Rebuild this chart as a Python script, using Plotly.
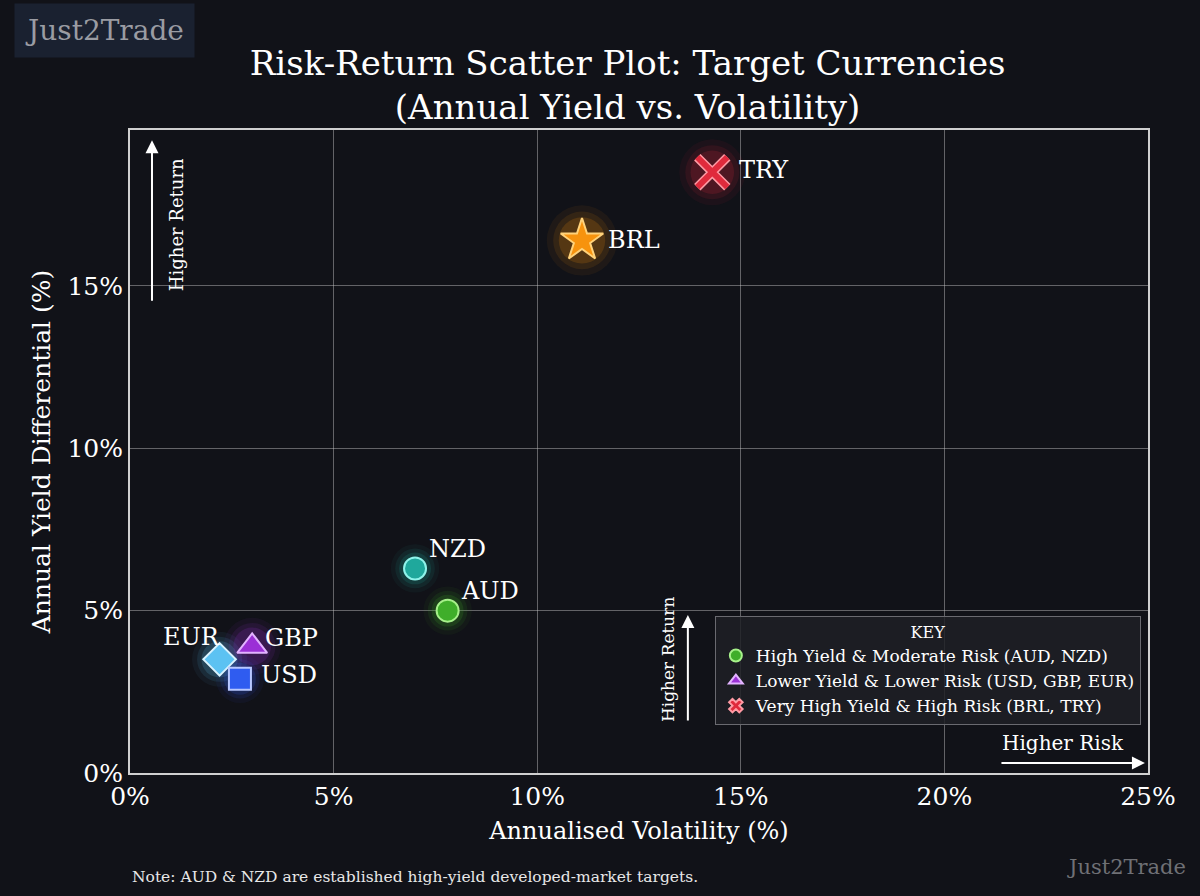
import plotly.graph_objects as go

# ---- data ----
currencies = ["NZD", "AUD", "EUR", "GBP", "USD", "BRL", "TRY"]
volatility = [7.0, 7.8, 2.2, 3.0, 2.7, 11.1, 14.3]
yield_diff = [6.3, 5.0, 3.5, 3.9, 2.9, 16.4, 18.5]
x_ticks = [0, 5, 10, 15, 20, 25]
y_ticks = [0, 5, 10, 15]
legend_names = [
    "High Yield & Moderate Risk (AUD, NZD)",
    "Lower Yield & Lower Risk (USD, GBP, EUR)",
    "Very High Yield & High Risk (BRL, TRY)",
]

# ---- styles ----
colors = {"NZD": "#1fa89c", "AUD": "#3fae2a", "EUR": "#5cc2f2", "GBP": "#9b2fd6",
          "USD": "#2f5cf0", "BRL": "#f7930e", "TRY": "#e02a3c"}
borders = {"NZD": "#8ff3ea", "AUD": "#a6f08a", "EUR": "#d8f3ff", "GBP": "#e2b3ff",
           "USD": "#b8c8ff", "BRL": "#ffd27a", "TRY": "#ff9aa4"}
symbols = {"NZD": "circle", "AUD": "circle", "EUR": "diamond", "GBP": "triangle-up",
           "USD": "square", "BRL": "star", "TRY": "x"}
sizes = {"NZD": 22, "AUD": 22, "EUR": 25, "GBP": 26, "USD": 22, "BRL": 32, "TRY": 30}
label_off = {"NZD": ("left", 12, 19), "AUD": ("left", 11, 20), "EUR": ("right", 2, 22),
             "GBP": ("left", 11, 8), "USD": ("left", 19, 4), "BRL": ("left", 24, 0),
             "TRY": ("left", 25, 2)}

FONT = "DejaVu Serif"
BG = "#111218"

fig = go.Figure()

# glow layers
for c, xv, yv in zip(currencies, volatility, yield_diff):
    for scale, op in [(2.2, 0.06), (1.8, 0.10), (1.45, 0.17)]:
        fig.add_trace(go.Scatter(
            x=[xv], y=[yv], mode="markers", showlegend=False, hoverinfo="skip",
            marker=dict(symbol="circle", size=sizes[c] * scale, color=colors[c], opacity=op,
                        line=dict(width=0))))

# points
for c, xv, yv in zip(currencies, volatility, yield_diff):
    sym = symbols[c]
    if sym == "x":
        fig.add_trace(go.Scatter(
            x=[xv], y=[yv], mode="markers", showlegend=False, hoverinfo="skip",
            marker=dict(symbol="x-thin", size=sizes[c], color=borders[c],
                        line=dict(width=9, color=borders[c]))))
        fig.add_trace(go.Scatter(
            x=[xv], y=[yv], mode="markers", showlegend=False,
            marker=dict(symbol="x-thin", size=sizes[c], color=colors[c],
                        line=dict(width=6, color=colors[c]))))
    else:
        fig.add_trace(go.Scatter(
            x=[xv], y=[yv], mode="markers", showlegend=False,
            marker=dict(symbol=sym, size=sizes[c], color=colors[c],
                        line=dict(width=2, color=borders[c]))))
    anc, xs, ys = label_off[c]
    fig.add_annotation(x=xv, y=yv, text=c, showarrow=False, xanchor=anc, yanchor="middle",
                       xshift=xs, yshift=ys, font=dict(family=FONT, size=24, color="white"))

# legend-only traces
leg_styles = [("circle", "#3fae2a", "#a6f08a"), ("triangle-up", "#9b2fd6", "#e2b3ff"),
              ("x", "#e02a3c", "#ff9aa4")]
for name, (sym, col, bcol) in zip(legend_names, leg_styles):
    fig.add_trace(go.Scatter(
        x=[None], y=[None], mode="markers", name=name, showlegend=True,
        marker=dict(symbol=sym, size=15, color=col, line=dict(width=1.5, color=bcol))))

# direction arrows
fig.add_annotation(xref="paper", yref="paper", x=0.0216, y=0.984, ax=0, ay=162,
                   showarrow=True, arrowhead=2, arrowsize=1.3, arrowwidth=2, arrowcolor="white", text="")
fig.add_annotation(xref="paper", yref="paper", x=0.0452, y=0.852, text="Higher Return",
                   textangle=-90, showarrow=False, xanchor="center", yanchor="middle",
                   font=dict(family=FONT, size=18, color="white"))
fig.add_annotation(xref="paper", yref="paper", x=0.548, y=0.2457, ax=0, ay=107,
                   showarrow=True, arrowhead=2, arrowsize=1.3, arrowwidth=2, arrowcolor="white", text="")
fig.add_annotation(xref="paper", yref="paper", x=0.5285, y=0.1757, text="Higher Return",
                   textangle=-90, showarrow=False, xanchor="center", yanchor="middle",
                   font=dict(family=FONT, size=17, color="white"))
fig.add_annotation(xref="paper", yref="paper", x=0.997, y=0.0156, ax=-145, ay=0,
                   showarrow=True, arrowhead=2, arrowsize=1.3, arrowwidth=2, arrowcolor="white", text="")
fig.add_annotation(xref="paper", yref="paper", x=0.9165, y=0.0467, text="Higher Risk",
                   showarrow=False, xanchor="center", yanchor="middle",
                   font=dict(family=FONT, size=20, color="white"))

# watermarks and note
fig.add_annotation(xref="paper", yref="paper", x=-0.1135, y=1.155, xanchor="left", yanchor="middle",
                   text="Just2Trade", showarrow=False, bgcolor="#1a2130", borderpad=10,
                   font=dict(family=FONT, size=28, color="#9a9ca3"))
fig.add_annotation(xref="paper", yref="paper", x=1.039, y=-0.146, xanchor="right", yanchor="middle",
                   text="Just2Trade", showarrow=False, font=dict(family=FONT, size=21, color="#6f7075"))
fig.add_annotation(xref="paper", yref="paper", x=0.0, y=-0.162, xanchor="left", yanchor="middle",
                   text="Note: AUD & NZD are established high-yield developed-market targets.",
                   showarrow=False, font=dict(family=FONT, size=15.5, color="#e8e8e8"))

fig.update_layout(
    width=1200, height=896,
    paper_bgcolor=BG, plot_bgcolor=BG,
    margin=dict(l=130, r=52, t=130, b=123),
    font=dict(family=FONT, color="white"),
    title=dict(text="Risk-Return Scatter Plot: Target Currencies<br>(Annual Yield vs. Volatility)",
               x=0.523, xanchor="center", y=0.916, yanchor="middle",
               font=dict(family=FONT, size=34, color="white")),
    xaxis=dict(range=[0, 25], tickvals=x_ticks, ticktext=[f"{v}%" for v in x_ticks],
               title=dict(text="Annualised Volatility (%)", font=dict(size=24), standoff=12),
               tickfont=dict(size=25), showgrid=True, gridcolor="rgba(200,200,200,0.45)",
               gridwidth=1, zeroline=False, showline=True, linecolor="#d0d0d0", linewidth=2,
               mirror=True, ticks=""),
    yaxis=dict(range=[0, 19.8], tickvals=y_ticks, ticktext=[f"{v}%" for v in y_ticks],
               title=dict(text="Annual Yield Differential (%)", font=dict(size=25), standoff=10),
               tickfont=dict(size=25), showgrid=True, gridcolor="rgba(200,200,200,0.45)",
               gridwidth=1, zeroline=False, showline=True, linecolor="#d0d0d0", linewidth=2,
               mirror=True, ticks=""),
    legend=dict(x=0.993, y=0.244, xanchor="right", yanchor="top",
                bgcolor="rgba(30,32,38,0.85)", bordercolor="#6a6a70", borderwidth=1,
                font=dict(family=FONT, size=17, color="white"),
                title=dict(text="KEY", side="top center", font=dict(family=FONT, size=16)),
                itemsizing="constant", tracegroupgap=0),
)

fig.write_html("out.html", config={"displayModeBar": False},
               post_script="document.body.style.margin='0';document.body.style.background='#111218';")
